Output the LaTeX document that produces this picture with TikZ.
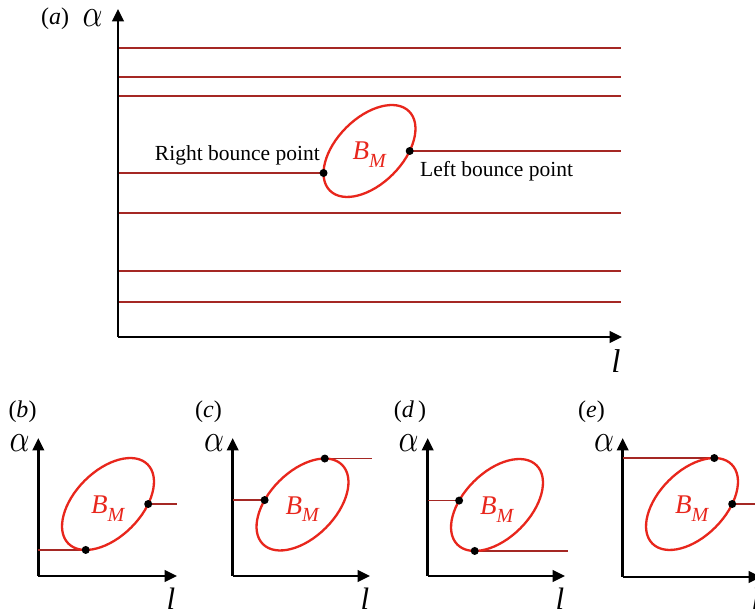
\documentclass[tikz,border=0pt]{standalone}
\usepackage{fontspec}
\usepackage{graphicx}
\setmainfont{Liberation Serif}
\usetikzlibrary{arrows.meta}
\definecolor{hlred}{RGB}{165,40,36}
\definecolor{elred}{RGB}{232,38,28}
\tikzset{
  axis/.style={line width=2.6pt,-{Triangle[length=12.5pt,width=11.5pt]}},
  hline/.style={line width=1.3pt,hlred},
  ell/.style={draw=elred,line width=2.3pt},
  bdot/.style={circle,fill=black,inner sep=0pt,minimum size=8pt},
  lab/.style={font=\fontsize{21.5}{21.5}\selectfont,inner sep=0pt},
  plab/.style={font=\fontsize{24}{24}\selectfont,inner sep=0pt},
  alab/.style={inner sep=0pt},
  llab/.style={font=\fontsize{33}{33}\selectfont,inner sep=0pt},
  sllab/.style={font=\fontsize{31}{31}\selectfont,inner sep=0pt},
  bm/.style={font=\fontsize{27}{27}\selectfont,text=elred,inner sep=0pt,anchor=base west},
}
\newcommand{\BMtext}{\textit{B}\raisebox{-0.27em}{\fontsize{20}{20}\selectfont\textit{M}}}
\newcommand{\bigalpha}{\scalebox{3.1}[3.9]{$\alpha$}}
\begin{document}
\begin{tikzpicture}[x=1pt,y=1pt]
\clip (0,0) rectangle (755,615);
\fill[white] (0,0) rectangle (755,615);
% ---------------- panel (a) ----------------
\coordinate (Oa) at (118,278);
\coordinate (Ya) at (118,606);
\coordinate (Xa) at (622,278);
\coordinate (Ra) at (621,278);
\foreach \yy/\nm in {567/l1,538/l2,519/l3,402/l4,344/l5,313/l6}{
  \coordinate (\nm s) at (118,\yy);
  \coordinate (\nm e) at (621,\yy);
  \draw[hline] (\nm s) -- (\nm e);
}
\coordinate (Ca) at (369.5,464);
\begin{scope}[shift={(Ca)},rotate=45]
  \coordinate (rbp) at (149.1:56 and 33);
  \coordinate (lbp) at (-59.5:56 and 33);
\end{scope}
\draw[hline] (rbp) -- (rbp -| Oa);
\draw[hline] (lbp) -- (lbp -| Ra);
\draw[ell,rotate around={45:(Ca)}] (Ca) ellipse [x radius=56,y radius=33];
\node[bdot] (rbpd) at (rbp) {};
\node[bdot] (lbpd) at (lbp) {};
\draw[axis] (Oa) -- (Ya);
\draw[axis] (Oa) -- (Xa);
\node[bm] (BMa) at (352.5,455) {\BMtext};
\node[lab,anchor=base east] (rtxt) at (320,454) {Right bounce point};
\node[lab,anchor=base west] (ltxt) at (420,438) {Left bounce point};
\node[plab] (pa) at (55,596) {(\textit{a})};
\node[alab] (alpa) at (92.5,597) {\bigalpha};
\node[llab] (la) at (616,253.5) {\textit{l}};
% ---------------- panel (b) ----------------
\coordinate (Ob) at (38.3,39);
\draw[axis] (Ob) -- (38.3,177) coordinate (Yb);
\coordinate (Eb) at (177,39);
\coordinate (Cb) at (108,111);
\begin{scope}[shift={(Cb)},rotate=45]
  \coordinate (b1) at (210.5:56 and 33);
  \coordinate (b2) at (-59.5:56 and 33);
\end{scope}
\draw[hline] (b1) -- (b1 -| Ob);
\draw[hline] (b2) -- (b2 -| Eb);
\draw[ell,rotate around={45:(Cb)}] (Cb) ellipse [x radius=56,y radius=33];
\node[bdot] (b1d) at (b1) {};
\node[bdot] (b2d) at (b2) {};
\draw[axis] (Ob) -- (Eb);
\node[bm] (BMb) at (91,101) {\BMtext};
\node[plab] (pb) at (22.5,203.5) {(\textit{b})};
\node[alab] (alpb) at (19.5,171.5) {\bigalpha};
\node[sllab] (lb) at (171,16) {\textit{l}};
% ---------------- panel (c) ----------------
\coordinate (Oc) at (232.7,39);
\draw[axis] (Oc) -- (232.7,177) coordinate (Yc);
\coordinate (Ec) at (372,39);
\coordinate (Cc) at (302.5,110.5);
\begin{scope}[shift={(Cc)},rotate=45]
  \coordinate (c1) at (30.5:56 and 33);
  \coordinate (c2) at (115:56 and 33);
\end{scope}
\draw[hline] (c1) -- (c1 -| Ec);
\draw[hline] (c2) -- (c2 -| Oc);
\draw[ell,rotate around={45:(Cc)}] (Cc) ellipse [x radius=56,y radius=33];
\node[bdot] (c1d) at (c1) {};
\node[bdot] (c2d) at (c2) {};
\draw[axis] (Oc) -- (370,39);
\node[bm] (BMc) at (285.5,100.5) {\BMtext};
\node[plab] (pc) at (208.5,203.5) {(\textit{c})};
\node[alab] (alpc) at (214,171.5) {\bigalpha};
\node[sllab] (lc) at (365,16) {\textit{l}};
% ---------------- panel (d) ----------------
\coordinate (Od) at (427.7,39);
\draw[axis] (Od) -- (427.7,177) coordinate (Yd);
\coordinate (Ed) at (568,39);
\coordinate (Cd) at (497,110);
\begin{scope}[shift={(Cd)},rotate=45]
  \coordinate (d1) at (115:56 and 33);
  \coordinate (d2) at (210.5:56 and 33);
\end{scope}
\draw[hline] (d1) -- (d1 -| Od);
\draw[hline] (d2) -- (d2 -| Ed);
\draw[ell,rotate around={45:(Cd)}] (Cd) ellipse [x radius=56,y radius=33];
\node[bdot] (d1d) at (d1) {};
\node[bdot] (d2d) at (d2) {};
\draw[axis] (Od) -- (565,39);
\node[bm] (BMd) at (480,100) {\BMtext};
\node[plab] (pd) at (410,203.5) {(\textit{d}\,)};
\node[alab] (alpd) at (408.5,171.5) {\bigalpha};
\node[sllab] (ld) at (560,16) {\textit{l}};
% ---------------- panel (e) ----------------
\coordinate (Oe) at (622.7,38);
\draw[axis] (Oe) -- (622.7,177) coordinate (Ye);
\coordinate (Ee) at (770,38);
\coordinate (Ce) at (692,111);
\begin{scope}[shift={(Ce)},rotate=45]
  \coordinate (e1) at (30.5:56 and 33);
  \coordinate (e2) at (-59.5:56 and 33);
\end{scope}
\draw[hline] (e1) -- (e1 -| Oe);
\draw[hline] (e2) -- (e2 -| Ee);
\draw[ell,rotate around={45:(Ce)}] (Ce) ellipse [x radius=56,y radius=33];
\node[bdot] (e1d) at (e1) {};
\node[bdot] (e2d) at (e2) {};
\draw[axis] (Oe) -- (761,38);
\node[bm] (BMe) at (675,101) {\BMtext};
\node[plab] (pe) at (591.5,203.5) {(\textit{e})};
\node[alab] (alpe) at (604,171.5) {\bigalpha};
\node[sllab] (le) at (756,16) {\textit{l}};
\end{tikzpicture}
\end{document}
